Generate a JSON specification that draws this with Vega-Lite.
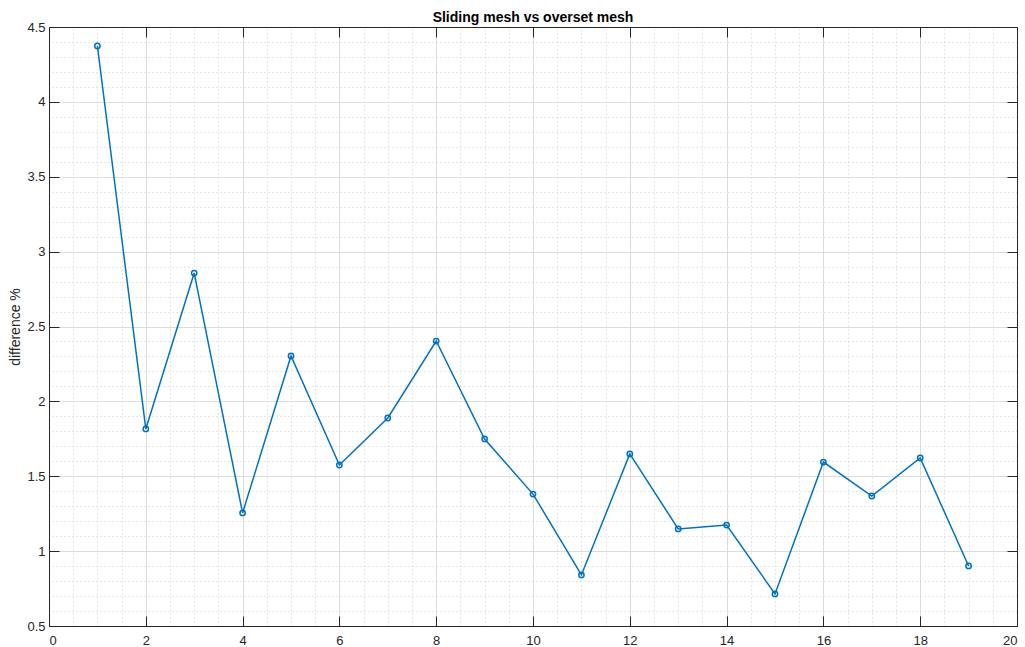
{
  "$schema": "https://vega.github.io/schema/vega-lite/v6.json",
  "autosize": "none",
  "width": 968,
  "height": 599,
  "padding": {"left": 49, "top": 27, "right": 8, "bottom": 21},
  "background": "white",
  "config": {
    "view": {"stroke": null},
    "font": "Liberation Sans",
    "axis": {"labelColor": "#262626", "labelFontSize": 13, "titleColor": "#262626", "titleFontSize": 14, "titleFontWeight": "normal", "domainColor": "#262626", "tickColor": "#262626"}
  },
  "title": {"text": "Sliding mesh vs overset mesh", "fontSize": 14, "fontWeight": "bold", "color": "#000000", "offset": -4},
  "data": {
    "values": [
      {"x": 1, "y": 4.373}, {"x": 2, "y": 1.816}, {"x": 3, "y": 2.857}, {"x": 4, "y": 1.255},
      {"x": 5, "y": 2.303}, {"x": 6, "y": 1.575}, {"x": 7, "y": 1.889}, {"x": 8, "y": 2.403},
      {"x": 9, "y": 1.749}, {"x": 10, "y": 1.381}, {"x": 11, "y": 0.841}, {"x": 12, "y": 1.649},
      {"x": 13, "y": 1.148}, {"x": 14, "y": 1.174}, {"x": 15, "y": 0.714}, {"x": 16, "y": 1.595},
      {"x": 17, "y": 1.368}, {"x": 18, "y": 1.622}, {"x": 19, "y": 0.901}
    ]
  },
  "resolve": {"axis": {"x": "independent", "y": "independent"}},
  "layer": [
    {
      "mark": {"type": "point", "opacity": 0},
      "encoding": {
        "x": {"field": "x", "type": "quantitative", "scale": {"domain": [0, 20], "nice": false},
          "axis": {"orient": "top", "title": null, "labels": false, "ticks": false, "domain": false, "grid": true, "gridColor": "#cccccc", "gridDash": [1, 3], "gridWidth": 1,
            "values": [0,0.5,1,1.5,2,2.5,3,3.5,4,4.5,5,5.5,6,6.5,7,7.5,8,8.5,9,9.5,10,10.5,11,11.5,12,12.5,13,13.5,14,14.5,15,15.5,16,16.5,17,17.5,18,18.5,19,19.5,20]}},
        "y": {"field": "y", "type": "quantitative", "scale": {"domain": [0.5, 4.5], "nice": false, "zero": false},
          "axis": {"orient": "right", "title": null, "labels": false, "ticks": false, "domain": false, "grid": true, "gridColor": "#cccccc", "gridDash": [1, 3], "gridWidth": 1,
            "values": [0.5,0.6,0.7,0.8,0.9,1,1.1,1.2,1.3,1.4,1.5,1.6,1.7,1.8,1.9,2,2.1,2.2,2.3,2.4,2.5,2.6,2.7,2.8,2.9,3,3.1,3.2,3.3,3.4,3.5,3.6,3.7,3.8,3.9,4,4.1,4.2,4.3,4.4,4.5]}}
      }
    },
    {
      "mark": {"type": "line", "color": "#0072BD", "strokeWidth": 1.5},
      "encoding": {
        "x": {"field": "x", "type": "quantitative", "scale": {"domain": [0, 20], "nice": false},
          "axis": {"orient": "bottom", "title": null, "ticks": false, "domain": true, "grid": true, "gridColor": "#dcdcdc", "gridWidth": 1, "labelPadding": 8, "format": "~g",
            "values": [0,2,4,6,8,10,12,14,16,18,20]}},
        "y": {"field": "y", "type": "quantitative", "scale": {"domain": [0.5, 4.5], "nice": false, "zero": false},
          "axis": {"orient": "left", "title": "difference %", "titlePadding": 4, "ticks": false, "domain": true, "grid": true, "gridColor": "#dcdcdc", "gridWidth": 1, "labelPadding": 4, "format": "~g",
            "values": [0.5,1,1.5,2,2.5,3,3.5,4,4.5]}}
      }
    },
    {
      "mark": {"type": "point", "filled": false, "color": "#0072BD", "size": 28, "strokeWidth": 1.5, "opacity": 1},
      "encoding": {
        "x": {"field": "x", "type": "quantitative", "scale": {"domain": [0, 20], "nice": false},
          "axis": {"orient": "bottom", "title": null, "labels": false, "ticks": true, "tickSize": -10, "domain": false, "grid": false,
            "values": [0,2,4,6,8,10,12,14,16,18,20]}},
        "y": {"field": "y", "type": "quantitative", "scale": {"domain": [0.5, 4.5], "nice": false, "zero": false},
          "axis": {"orient": "left", "title": null, "labels": false, "ticks": true, "tickSize": -10, "domain": false, "grid": false,
            "values": [0.5,1,1.5,2,2.5,3,3.5,4,4.5]}}
      }
    },
    {
      "mark": {"type": "point", "opacity": 0},
      "encoding": {
        "x": {"field": "x", "type": "quantitative", "scale": {"domain": [0, 20], "nice": false},
          "axis": {"orient": "top", "title": null, "labels": false, "ticks": true, "tickSize": -10, "domain": true, "grid": false,
            "values": [0,2,4,6,8,10,12,14,16,18,20]}},
        "y": {"field": "y", "type": "quantitative", "scale": {"domain": [0.5, 4.5], "nice": false, "zero": false},
          "axis": {"orient": "right", "title": null, "labels": false, "ticks": true, "tickSize": -10, "domain": true, "grid": false,
            "values": [0.5,1,1.5,2,2.5,3,3.5,4,4.5]}}
      }
    }
  ]
}
